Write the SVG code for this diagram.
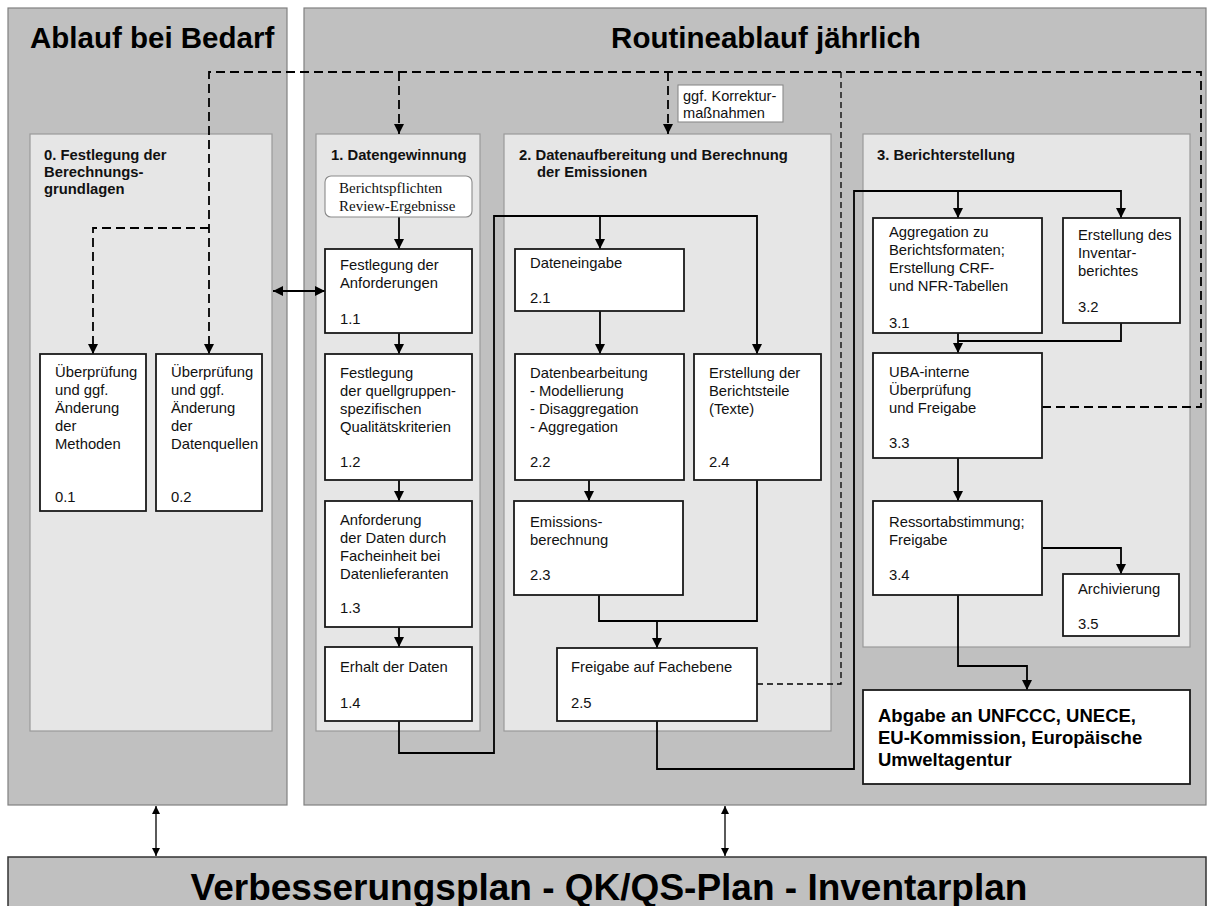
<svg xmlns="http://www.w3.org/2000/svg" width="1207" height="906" viewBox="0 0 1207 906">
<style>
.outer{fill:#c0c0c0;stroke:#808080;stroke-width:1.2}
.inner{fill:#e6e6e6;stroke:#9a9a9a;stroke-width:1.2}
.node{fill:#fff;stroke:#1a1a1a;stroke-width:1.8}
.soft{fill:#fff;stroke:#8a8a8a;stroke-width:1.1}
.t{font-family:"Liberation Sans",Arial,sans-serif;font-size:14.8px;fill:#111}
.h{font-family:"Liberation Sans",Arial,sans-serif;font-size:14.8px;font-weight:bold;fill:#111}
.big{font-family:"Liberation Sans",Arial,sans-serif;font-size:29.5px;font-weight:bold;fill:#000}
.bb{font-family:"Liberation Sans",Arial,sans-serif;font-size:18.5px;font-weight:bold;fill:#000}
.ser{font-family:"Liberation Serif","Times New Roman",serif;font-size:15px;fill:#111}
.c{fill:none;stroke:#000;stroke-width:1.8}
.d{fill:none;stroke:#000;stroke-width:1.8;stroke-dasharray:9 5}
.d2{fill:none;stroke:#000;stroke-width:1.3;stroke-dasharray:6 4}
.thin{fill:none;stroke:#000;stroke-width:1.3}
</style>
<defs>
<marker id="ah" viewBox="0 0 10 10" refX="10" refY="5" markerWidth="10" markerHeight="11" markerUnits="userSpaceOnUse" orient="auto-start-reverse">
<path d="M0,0 L10,5 L0,10 z" fill="#000"/>
</marker>
<marker id="as" viewBox="0 0 10 10" refX="10" refY="5" markerWidth="9" markerHeight="8" markerUnits="userSpaceOnUse" orient="auto-start-reverse">
<path d="M0,0 L10,5 L0,10 z" fill="#000"/>
</marker>
</defs>
<rect width="1207" height="906" fill="#fff"/>

<g id="panels">
<rect class="outer" x="8" y="8" width="279" height="797"/>
<rect class="outer" x="304" y="8" width="902" height="797"/>
<text class="big" x="30" y="48">Ablauf bei Bedarf</text>
<text class="big" x="766" y="48" text-anchor="middle">Routineablauf jährlich</text>
<rect class="inner" x="30" y="134" width="242" height="597"/>
<rect class="inner" x="316" y="134" width="164" height="597"/>
<rect class="inner" x="504" y="134" width="327" height="597"/>
<rect class="inner" x="863" y="134" width="327" height="513"/>
<text class="h" x="44" y="160">0. Festlegung der</text>
<text class="h" x="44" y="177">Berechnungs-</text>
<text class="h" x="44" y="194">grundlagen</text>
<text class="h" x="331" y="160">1. Datengewinnung</text>
<text class="h" x="519" y="160">2. Datenaufbereitung und Berechnung</text>
<text class="h" x="537" y="177">der Emissionen</text>
<text class="h" x="877" y="160">3. Berichterstellung</text>
</g>

<g id="connectors">
<path class="d" d="M1042,407 H1201 V72 H209 V354" marker-end="url(#ah)"/>
<path class="d" d="M209,228 H93 V354" marker-end="url(#ah)"/>
<path class="d" d="M399,72 V134" marker-end="url(#ah)"/>
<path class="d" d="M668,72 V134" marker-end="url(#ah)"/>
<path class="d2" d="M757,684 H841 V72"/>
<path class="c" d="M273,291 H325" marker-start="url(#ah)" marker-end="url(#ah)"/>
<path class="c" d="M399,217 V249" marker-end="url(#ah)"/>
<path class="c" d="M399,333 V354" marker-end="url(#ah)"/>
<path class="c" d="M399,480 V501" marker-end="url(#ah)"/>
<path class="c" d="M399,627 V647" marker-end="url(#ah)"/>
<path class="c" d="M399,721 V753 H494 V216 H757 V354" marker-end="url(#ah)"/>
<path class="c" d="M600,216 V249" marker-end="url(#ah)"/>
<path class="c" d="M600,311 V354" marker-end="url(#ah)"/>
<path class="c" d="M589,480 V501" marker-end="url(#ah)"/>
<path class="c" d="M599,595 V621 H757 V480"/>
<path class="c" d="M657,621 V648" marker-end="url(#ah)"/>
<path class="c" d="M657,721 V769 H854 V191 H1121 V218" marker-end="url(#ah)"/>
<path class="c" d="M958,191 V218" marker-end="url(#ah)"/>
<path class="c" d="M958,333 V353" marker-end="url(#ah)"/>
<path class="c" d="M1121,323 V341 H958"/>
<path class="c" d="M958,458 V501" marker-end="url(#ah)"/>
<path class="c" d="M1042,548 H1121 V574" marker-end="url(#ah)"/>
<path class="c" d="M958,595 V666 H1027 V690" marker-end="url(#ah)"/>
<path class="thin" d="M156,806 V856" marker-start="url(#as)" marker-end="url(#as)"/>
<path class="thin" d="M725,806 V856" marker-start="url(#as)" marker-end="url(#as)"/>
</g>

<g id="n01">
<rect class="node" x="40" y="354" width="106" height="157"/>
<text class="t" x="55" y="377">Überprüfung</text>
<text class="t" x="55" y="395">und ggf.</text>
<text class="t" x="55" y="413">Änderung</text>
<text class="t" x="55" y="431">der</text>
<text class="t" x="55" y="449">Methoden</text>
<text class="t" x="55" y="502">0.1</text>
</g>
<g id="n02">
<rect class="node" x="156" y="354" width="106" height="157"/>
<text class="t" x="171" y="377">Überprüfung</text>
<text class="t" x="171" y="395">und ggf.</text>
<text class="t" x="171" y="413">Änderung</text>
<text class="t" x="171" y="431">der</text>
<text class="t" x="171" y="449">Datenquellen</text>
<text class="t" x="171" y="502">0.2</text>
</g>

<g id="korrektur">
<rect class="soft" x="678" y="85" width="105" height="37"/>
<text class="t" x="683" y="101" style="font-size:14.6px">ggf. Korrektur-</text>
<text class="t" x="683" y="118" style="font-size:14.6px">maßnahmen</text>
</g>

<g id="berichtspflichten">
<rect class="soft" x="325" y="176" width="147" height="41" rx="6"/>
<text class="ser" x="339" y="193">Berichtspflichten</text>
<text class="ser" x="339" y="211">Review-Ergebnisse</text>
</g>

<g id="n11">
<rect class="node" x="325" y="249" width="147" height="84"/>
<text class="t" x="340" y="270">Festlegung der</text>
<text class="t" x="340" y="288">Anforderungen</text>
<text class="t" x="340" y="324">1.1</text>
</g>
<g id="n12">
<rect class="node" x="325" y="354" width="147" height="126"/>
<text class="t" x="340" y="378">Festlegung</text>
<text class="t" x="340" y="396">der quellgruppen-</text>
<text class="t" x="340" y="414">spezifischen</text>
<text class="t" x="340" y="432">Qualitätskriterien</text>
<text class="t" x="340" y="467">1.2</text>
</g>
<g id="n13">
<rect class="node" x="325" y="501" width="147" height="126"/>
<text class="t" x="340" y="525">Anforderung</text>
<text class="t" x="340" y="543">der Daten durch</text>
<text class="t" x="340" y="561">Facheinheit bei</text>
<text class="t" x="340" y="579">Datenlieferanten</text>
<text class="t" x="340" y="613">1.3</text>
</g>
<g id="n14">
<rect class="node" x="325" y="647" width="147" height="74"/>
<text class="t" x="340" y="672">Erhalt der Daten</text>
<text class="t" x="340" y="708">1.4</text>
</g>

<g id="n21">
<rect class="node" x="515" y="249" width="169" height="62"/>
<text class="t" x="530" y="268">Dateneingabe</text>
<text class="t" x="530" y="303">2.1</text>
</g>
<g id="n22">
<rect class="node" x="515" y="354" width="169" height="126"/>
<text class="t" x="530" y="378">Datenbearbeitung</text>
<text class="t" x="530" y="396">- Modellierung</text>
<text class="t" x="530" y="414">- Disaggregation</text>
<text class="t" x="530" y="432">- Aggregation</text>
<text class="t" x="530" y="467">2.2</text>
</g>
<g id="n24">
<rect class="node" x="694" y="354" width="127" height="126"/>
<text class="t" x="709" y="378">Erstellung der</text>
<text class="t" x="709" y="396">Berichtsteile</text>
<text class="t" x="709" y="414">(Texte)</text>
<text class="t" x="709" y="467">2.4</text>
</g>
<g id="n23">
<rect class="node" x="514" y="501" width="169" height="94"/>
<text class="t" x="530" y="527">Emissions-</text>
<text class="t" x="530" y="545">berechnung</text>
<text class="t" x="530" y="580">2.3</text>
</g>
<g id="n25">
<rect class="node" x="557" y="648" width="200" height="73"/>
<text class="t" x="571" y="672">Freigabe auf Fachebene</text>
<text class="t" x="571" y="708">2.5</text>
</g>

<g id="n31">
<rect class="node" x="873" y="218" width="169" height="115"/>
<text class="t" x="889" y="237">Aggregation zu</text>
<text class="t" x="889" y="255">Berichtsformaten;</text>
<text class="t" x="889" y="273">Erstellung CRF-</text>
<text class="t" x="889" y="291">und NFR-Tabellen</text>
<text class="t" x="889" y="328">3.1</text>
</g>
<g id="n32">
<rect class="node" x="1063" y="218" width="117" height="105"/>
<text class="t" x="1078" y="240">Erstellung des</text>
<text class="t" x="1078" y="258">Inventar-</text>
<text class="t" x="1078" y="276">berichtes</text>
<text class="t" x="1078" y="312">3.2</text>
</g>
<g id="n33">
<rect class="node" x="873" y="353" width="169" height="105"/>
<text class="t" x="889" y="377">UBA-interne</text>
<text class="t" x="889" y="395">Überprüfung</text>
<text class="t" x="889" y="413">und Freigabe</text>
<text class="t" x="889" y="448">3.3</text>
</g>
<g id="n34">
<rect class="node" x="873" y="501" width="169" height="94"/>
<text class="t" x="889" y="527">Ressortabstimmung;</text>
<text class="t" x="889" y="545">Freigabe</text>
<text class="t" x="889" y="580">3.4</text>
</g>
<g id="n35">
<rect class="node" x="1063" y="574" width="116" height="62"/>
<text class="t" x="1078" y="594">Archivierung</text>
<text class="t" x="1078" y="629">3.5</text>
</g>
<g id="abgabe">
<rect class="node" x="863" y="690" width="327" height="94"/>
<text class="bb" x="878" y="722">Abgabe an UNFCCC, UNECE,</text>
<text class="bb" x="878" y="744">EU-Kommission, Europäische</text>
<text class="bb" x="878" y="766">Umweltagentur</text>
</g>

<g id="plan">
<rect x="8" y="857" width="1198" height="60" fill="#c0c0c0" stroke="#333" stroke-width="1.5"/>
<text x="609" y="900" text-anchor="middle" style="font-family:'Liberation Sans',Arial,sans-serif;font-size:37px;font-weight:bold;fill:#000">Verbesserungsplan - QK/QS-Plan - Inventarplan</text>
</g>
</svg>
